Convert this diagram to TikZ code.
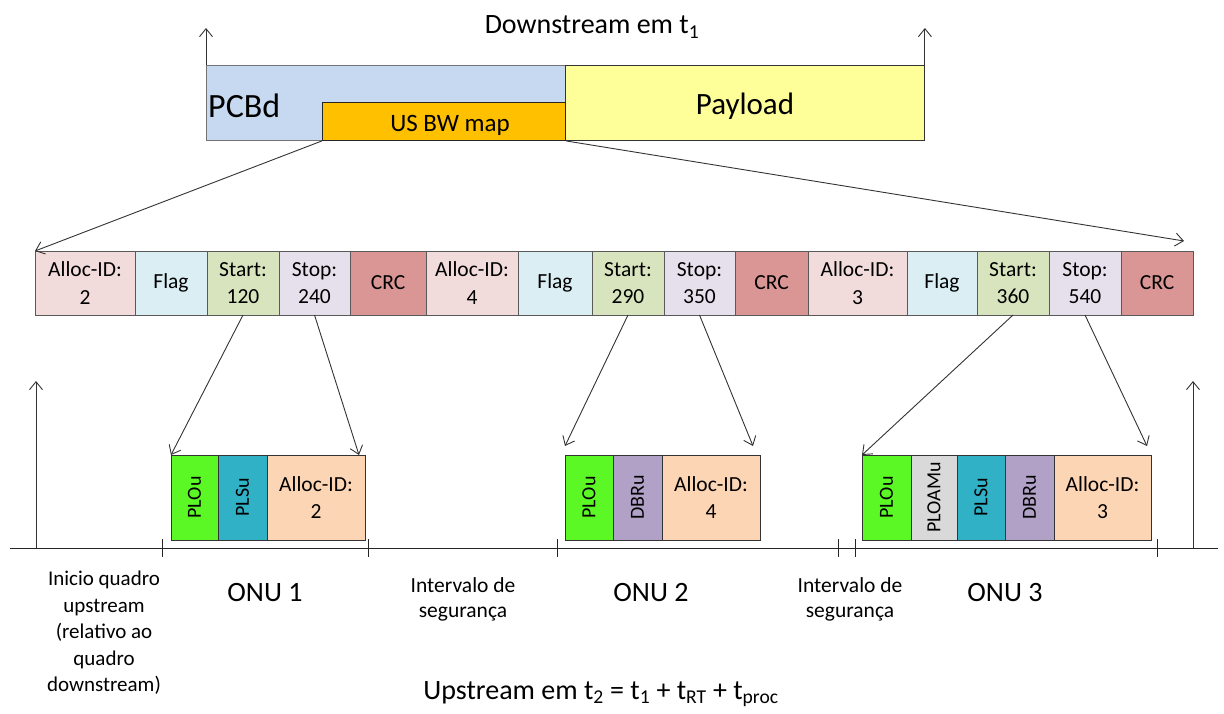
\documentclass[tikz,border=0pt]{standalone}
\usepackage{fontspec}
\setmainfont{Carlito}
\usetikzlibrary{arrows.meta,calc}

\definecolor{pcbd}{HTML}{C6D9F1}
\definecolor{payload}{HTML}{FFFF99}
\definecolor{usbw}{HTML}{FFC000}
\definecolor{allocc}{HTML}{F2DCDB}
\definecolor{flagc}{HTML}{DAEEF3}
\definecolor{startc}{HTML}{D7E4BD}
\definecolor{stopc}{HTML}{E6E0EC}
\definecolor{crcc}{HTML}{D99694}
\definecolor{ploc}{HTML}{5CF826}
\definecolor{plsc}{HTML}{31B1C6}
\definecolor{dbrc}{HTML}{B2A1C7}
\definecolor{ploamc}{HTML}{D9D9D9}
\definecolor{payc}{HTML}{FCD5B5}

\newcommand{\fsz}[2]{\fontsize{#1}{#2}\selectfont}

\tikzset{
  field/.style={draw=black!65, line width=0.9pt, anchor=north west, inner sep=0pt,
    outer sep=0pt, minimum height=64pt, align=center, font=\fsz{21.5}{27.5}},
  burst/.style={draw=black!80, line width=0.9pt, anchor=north west, inner sep=0pt,
    outer sep=0pt, minimum height=85pt, align=center, font=\fsz{21.5}{27.5}},
  vlabel/.style={rotate=90, font=\fsz{20}{22}},
  arr/.style={draw=black!80, line width=0.9pt, -{Straight Barb[length=8pt,width=13pt]}},
  axis/.style={draw=black!85, line width=1pt},
  tick/.style={draw=black!85, line width=1pt},
  lbl/.style={align=center, inner sep=0pt}
}

\begin{document}
\begin{tikzpicture}[x=1pt, y=-1pt]
\useasboundingbox (0,0) rectangle (1224,713);

% downstream frame
\node[draw=black!55, line width=0.9pt, fill=pcbd, anchor=north west, inner sep=0pt,
      minimum width=359pt, minimum height=75pt] (pcbd) at (206,65) {};
\node[draw=black!80, line width=0.9pt, fill=payload, anchor=north west, inner sep=0pt,
      minimum width=359pt, minimum height=75pt] (pay) at (565,65) {};
\node[draw=black!85, line width=0.9pt, fill=usbw, anchor=north west, inner sep=0pt,
      minimum width=243pt, minimum height=38pt] (usbw) at (322,102) {};
\node[anchor=west, inner sep=0pt, font=\fsz{34}{38}] (pcbdtxt) at (208,106) {PCBd};
\node[lbl, font=\fsz{31}{36}] (paytxt) at (745,106) {Payload};
\node[lbl, font=\fsz{25}{28}] (usbwtxt) at (450,125) {US BW map};
\node[lbl, font=\fsz{28}{32}] (dtitle) at (592,27) {Downstream em t\textsubscript{1}};
\draw[arr] (pcbd.north west) -- ++(0,-37);
\draw[arr] (pay.north east) -- ++(0,-37);

% bandwidth map fields
\node[field, fill=allocc, minimum width=100pt] (a1)  at (35,251)  {Alloc-ID:\\2};
\node[field, fill=flagc,  minimum width=72pt]  (f1)  at (135,251) {Flag};
\node[field, fill=startc, minimum width=72pt]  (s1)  at (207,251) {Start:\\120};
\node[field, fill=stopc,  minimum width=71pt]  (e1)  at (279,251) {Stop:\\240};
\node[field, fill=crcc,   minimum width=76pt]  (c1)  at (350,251) {CRC};
\node[field, fill=allocc, minimum width=92pt]  (a2)  at (426,251) {Alloc-ID:\\4};
\node[field, fill=flagc,  minimum width=74pt]  (f2)  at (518,251) {Flag};
\node[field, fill=startc, minimum width=72pt]  (s2)  at (592,251) {Start:\\290};
\node[field, fill=stopc,  minimum width=71pt]  (e2)  at (664,251) {Stop:\\350};
\node[field, fill=crcc,   minimum width=73pt]  (c2)  at (735,251) {CRC};
\node[field, fill=allocc, minimum width=99pt]  (a3)  at (808,251) {Alloc-ID:\\3};
\node[field, fill=flagc,  minimum width=70pt]  (f3)  at (907,251) {Flag};
\node[field, fill=startc, minimum width=72pt]  (s3)  at (977,251) {Start:\\360};
\node[field, fill=stopc,  minimum width=72pt]  (e3)  at (1049,251) {Stop:\\540};
\node[field, fill=crcc,   minimum width=72pt]  (c3)  at (1121,251) {CRC};

\coordinate (mapend) at (1184,241);
\draw[arr] (usbw.south west) -- (a1.north west);
\draw[arr] (usbw.south east) -- (mapend);

% upstream bursts
\node[burst, fill=ploc, minimum width=47pt] (o1p) at (171,455) {};
\node[burst, fill=plsc, minimum width=49pt] (o1l) at (218,455) {};
\node[burst, fill=payc, minimum width=98pt] (o1a) at (267,455) {Alloc-ID:\\2};
\node[vlabel] at (o1p.center) {PLOu};
\node[vlabel] at (o1l.center) {PLSu};

\node[burst, fill=ploc, minimum width=48pt] (o2p) at (565,455) {};
\node[burst, fill=dbrc, minimum width=49pt] (o2d) at (613,455) {};
\node[burst, fill=payc, minimum width=98pt] (o2a) at (662,455) {Alloc-ID:\\4};
\node[vlabel] at (o2p.center) {PLOu};
\node[vlabel] at (o2d.center) {DBRu};

\node[burst, fill=ploc,   minimum width=49pt] (o3p) at (862,455) {};
\node[burst, fill=ploamc, minimum width=46pt] (o3m) at (911,455) {};
\node[burst, fill=plsc,   minimum width=48pt] (o3l) at (957,455) {};
\node[burst, fill=dbrc,   minimum width=49pt] (o3d) at (1005,455) {};
\node[burst, fill=payc,   minimum width=97pt] (o3a) at (1054,455) {Alloc-ID:\\3};
\node[vlabel] at (o3p.center) {PLOu};
\node[vlabel] at (o3m.center) {PLOAMu};
\node[vlabel] at (o3l.center) {PLSu};
\node[vlabel] at (o3d.center) {DBRu};

% start/stop pointers
\coordinate (t1e) at ($(o1a.north east)+(-6,0)$);
\coordinate (t2s) at ($(o2p.north west)+(0,-9)$);
\coordinate (t2e) at ($(o2a.north east)+(-7,-9)$);
\coordinate (t3e) at ($(o3a.north east)+(-4,-9)$);
\draw[arr] (s1.south) -- (o1p.north west);
\draw[arr] (e1.south) -- (t1e);
\draw[arr] (s2.south) -- (t2s);
\draw[arr] (e2.south) -- (t2e);
\draw[arr] (s3.south) -- (o3p.north west);
\draw[arr] (e3.south) -- (t3e);

% time axis
\draw[axis] (10,548) -- (1218,548);
\foreach \tx in {162,368,557,838,855,1157}
  \draw[tick] (\tx,539) -- (\tx,557);
\draw[arr] (36,548) -- (36,381);
\draw[arr] (1193,548) -- (1193,381);

% axis labels
\node[lbl, font=\fsz{21}{26.5}] (inicio) at (104,633)
  {Inicio quadro\\upstream\\(relativo ao\\quadro\\downstream)};
\node[lbl, font=\fsz{28}{32}] (onu1) at (265,593) {ONU 1};
\node[lbl, font=\fsz{28}{32}] (onu2) at (651,593) {ONU 2};
\node[lbl, font=\fsz{28}{32}] (onu3) at (1005,593) {ONU 3};
\node[lbl, font=\fsz{21.5}{25}] (gap1) at (463,599) {Intervalo de\\segurança};
\node[lbl, font=\fsz{21.5}{25}] (gap2) at (850,599) {Intervalo de\\segurança};
\node[lbl, font=\fsz{28}{32}] (utitle) at (601,694)
  {Upstream em t\textsubscript{2} = t\textsubscript{1} + t\textsubscript{RT} + t\textsubscript{proc}};
\end{tikzpicture}
\end{document}
